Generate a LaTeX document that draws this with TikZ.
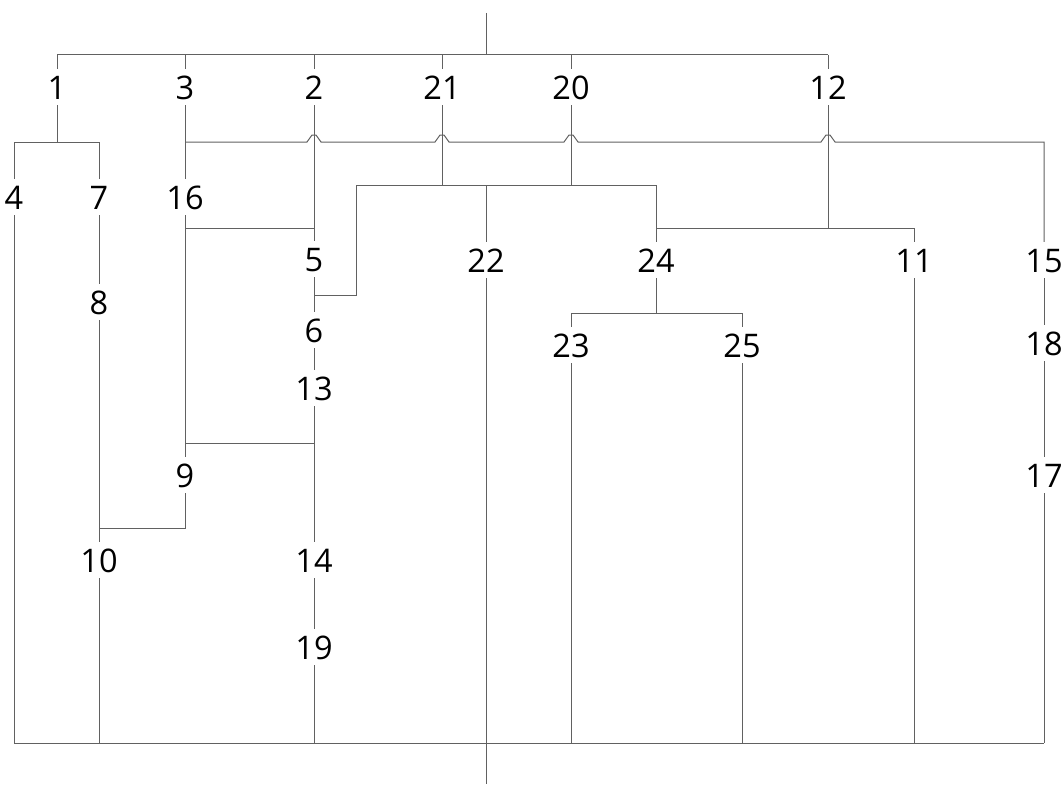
\documentclass[tikz,border=0pt]{standalone}
\usepackage{fontspec}
\setmainfont{Open Sans}
\newcommand\hopover[1]{-- (#1-7,142) -- (#1-2,135) -- (#1+2,135) -- (#1+7,142)}
\begin{document}
\begin{tikzpicture}[x=1pt,y=-1pt,
  lab/.style={font=\fontsize{32.5}{40}\selectfont, text height=24pt, text depth=0pt, inner xsep=1pt, inner ysep=6pt},
  wire/.style={draw=black!62, line width=1pt}]
\useasboundingbox (0,0) rectangle (1064,784);
% labels
\node[lab] (n1) at (57,87) {1};
\node[lab] (n3) at (185,87) {3};
\node[lab] (n2) at (314,87) {2};
\node[lab] (n21) at (442,87) {21};
\node[lab] (n20) at (571,87) {20};
\node[lab] (n12) at (828,87) {12};
\node[lab] (n4) at (14,197) {4};
\node[lab] (n7) at (99,197) {7};
\node[lab] (n16) at (185,197) {16};
\node[lab] (n5) at (314,259) {5};
\node[lab] (n22) at (486,260) {22};
\node[lab] (n24) at (656,260) {24};
\node[lab] (n11) at (914,260) {11};
\node[lab] (n15) at (1044,260) {15};
\node[lab] (n8) at (99,302) {8};
\node[lab] (n6) at (314,330) {6};
\node[lab] (n13) at (314,388) {13};
\node[lab] (n23) at (571,345) {23};
\node[lab] (n25) at (742,345) {25};
\node[lab] (n18) at (1044,343) {18};
\node[lab] (n9) at (185,475) {9};
\node[lab] (n17) at (1044,475) {17};
\node[lab] (n10) at (99,560) {10};
\node[lab] (n14) at (314,560) {14};
\node[lab] (n19) at (314,647) {19};
% junction coordinates
\coordinate (top) at (486,13);
\coordinate (tj) at (486,55);
\coordinate (tL) at (57,55);
\coordinate (tR) at (828,55);
\coordinate (t3) at (185,55);
\coordinate (t2) at (314,55);
\coordinate (t21) at (442,55);
\coordinate (t20) at (571,55);
\coordinate (b1) at (57,142);
\coordinate (bL) at (14,142);
\coordinate (bR) at (99,142);
\coordinate (h3) at (185,142);
\coordinate (h15) at (1044,142);
\coordinate (j16) at (185,228);
\coordinate (j5) at (314,228);
\coordinate (j6) at (314,295);
\coordinate (k6) at (356,295);
\coordinate (k185) at (356,185);
\coordinate (m656) at (656,185);
\coordinate (j21) at (442,185);
\coordinate (j20) at (571,185);
\coordinate (j22) at (486,185);
\coordinate (j12) at (828,228);
\coordinate (j24) at (656,228);
\coordinate (j11) at (914,228);
\coordinate (q24) at (656,313);
\coordinate (q23) at (571,313);
\coordinate (q25) at (742,313);
\coordinate (j13) at (314,443);
\coordinate (j9) at (185,443);
\coordinate (r9) at (185,528);
\coordinate (r10) at (99,528);
\coordinate (z4) at (14,743);
\coordinate (z10) at (99,743);
\coordinate (z19) at (314,743);
\coordinate (z23) at (571,743);
\coordinate (z25) at (742,743);
\coordinate (z11) at (914,743);
\coordinate (z17) at (1044,743);
\coordinate (zbot) at (486,784);
% connectors
\draw[wire] (top) -- (tj);
\draw[wire] (tL) -- (tR);
\draw[wire] (tL) -- (n1);
\draw[wire] (t3) -- (n3);
\draw[wire] (t2) -- (n2);
\draw[wire] (t21) -- (n21);
\draw[wire] (t20) -- (n20);
\draw[wire] (tR) -- (n12);
\draw[wire] (n1) -- (b1);
\draw[wire] (bL) -- (bR);
\draw[wire] (bL) -- (n4);
\draw[wire] (bR) -- (n7);
\draw[wire] (n3) -- (n16);
\draw[wire] (h3) \hopover{314} \hopover{442} \hopover{571} \hopover{828} -- (h15) -- (n15);
\draw[wire] (n2) -- (n5);
\draw[wire] (j16) -- (j5);
\draw[wire] (n16) -- (n9);
\draw[wire] (n5) -- (n6);
\draw[wire] (j6) -- (k6) -- (k185) -- (m656) -- (n24);
\draw[wire] (n21) -- (j21);
\draw[wire] (n20) -- (j20);
\draw[wire] (j22) -- (n22);
\draw[wire] (n12) -- (j12);
\draw[wire] (j24) -- (j11) -- (n11);
\draw[wire] (n24) -- (q24);
\draw[wire] (q23) -- (q25);
\draw[wire] (q23) -- (n23);
\draw[wire] (q25) -- (n25);
\draw[wire] (n6) -- (n13);
\draw[wire] (n13) -- (n14);
\draw[wire] (n14) -- (n19);
\draw[wire] (j13) -- (j9);
\draw[wire] (n9) -- (r9) -- (r10);
\draw[wire] (n7) -- (n8);
\draw[wire] (n8) -- (n10);
\draw[wire] (z4) -- (z17);
\draw[wire] (n4) -- (z4);
\draw[wire] (n10) -- (z10);
\draw[wire] (n19) -- (z19);
\draw[wire] (n22) -- (zbot);
\draw[wire] (n23) -- (z23);
\draw[wire] (n25) -- (z25);
\draw[wire] (n11) -- (z11);
\draw[wire] (n15) -- (n18);
\draw[wire] (n18) -- (n17);
\draw[wire] (n17) -- (z17);
\end{tikzpicture}
\end{document}
